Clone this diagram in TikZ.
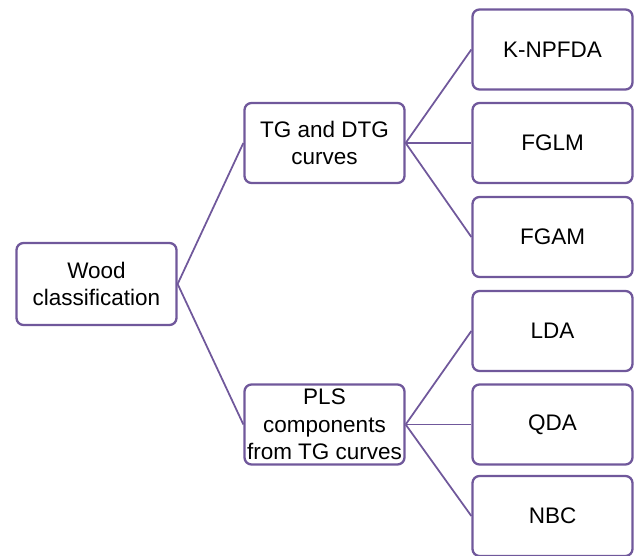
\documentclass[tikz,border=0pt]{standalone}
\usepackage{fontspec}
\setmainfont{Liberation Sans}
\definecolor{treeline}{RGB}{112,88,155}
\begin{document}
\begin{tikzpicture}[box/.style = {draw=treeline, line width=1.3pt, rounded corners=4pt,
                        minimum width=3.2cm, minimum height=1.6cm, inner sep=0pt,
                        align=center, font=\fontsize{12.8}{15.6}\selectfont},
                    link/.style = {treeline, line width=1pt}]
                \useasboundingbox (0,0) rectangle (12.7,-11.12);

                % root and middle level
                \node [box, minimum height=1.64cm] (wood) at (1.93,-5.68) {Wood\\classification};
                \node [box] (tg)  at (6.49,-2.86) {TG and DTG\\curves};
                \node [box] (pls) at (6.49,-8.49) {PLS\\components\\from TG curves};

                % methods
                \node [box] (knp)  at (11.05,-0.99)  {K-NPFDA};
                \node [box] (fglm) at (11.05,-2.86)  {FGLM};
                \node [box] (fgam) at (11.05,-4.74)  {FGAM};
                \node [box] (lda)  at (11.05,-6.62)  {LDA};
                \node [box] (qda)  at (11.05,-8.49)  {QDA};
                \node [box] (nbc)  at (11.05,-10.32) {NBC};

                \draw[link] (wood.east) -- (tg.west);
                \draw[link] (wood.east) -- (pls.west);

                \draw[link] (tg.east) -- (knp.west);
                \draw[link] (tg.east) -- (fglm.west);
                \draw[link] (tg.east) -- (fgam.west);

                \draw[link] (pls.east) -- (lda.west);
                \draw[link] (pls.east) -- (qda.west);
                \draw[link] (pls.east) -- (nbc.west);
            \end{tikzpicture}
\end{document}
